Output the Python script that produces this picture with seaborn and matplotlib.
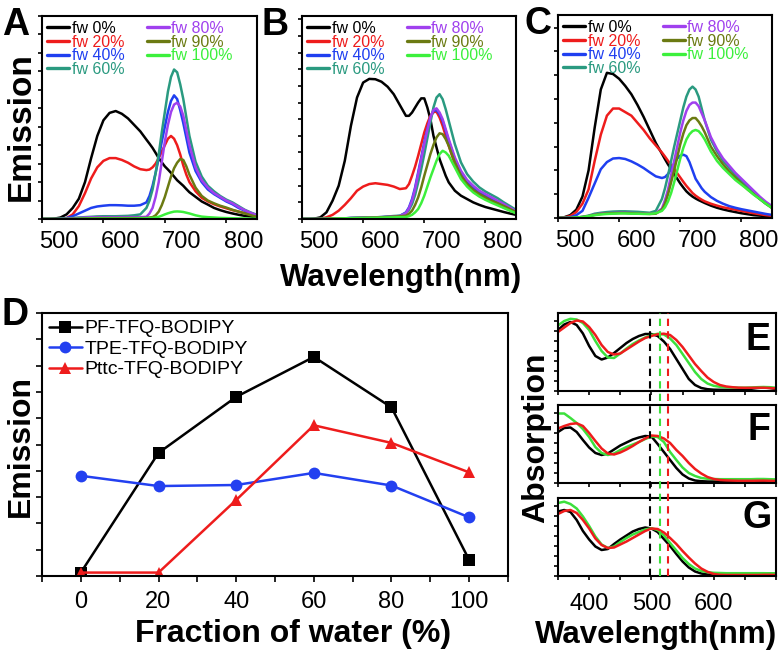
import matplotlib
matplotlib.use("Agg")
import matplotlib.pyplot as plt
from matplotlib.lines import Line2D
from matplotlib.transforms import ScaledTranslation, blended_transform_factory
import pandas as pd
import seaborn as sns

W, H = 783, 653

# emission spectra (A, B, C): wavelength grid in nm, finer around the red peaks
WL_EM = [500, 510, 520, 530, 540, 550, 560, 570, 580, 590,
         600, 610, 620, 630, 640, 650, 660, 670,
         675, 680, 685, 690, 695, 700, 705, 710, 715, 720, 725, 730, 735, 740,
         750, 760, 770, 780, 790, 800, 810, 820, 830, 840, 850]
FW_LABELS = ["fw 0%", "fw 20%", "fw 40%", "fw 60%", "fw 80%", "fw 90%", "fw 100%"]
FW_COLORS = ["#000000", "#ee1c1c", "#1f3ff0", "#2a9a80", "#a040ee", "#6b7a12", "#3cf03c"]

A_0 = [0, 0, 0.02, 0.08, 0.25, 0.6, 1.1, 2.0, 3.3, 4.5, 5.35, 5.75, 5.85, 5.7, 5.45, 5.1, 4.75, 4.3,
       4.08, 3.85, 3.58, 3.3, 3.07, 2.85, 2.68, 2.5, 2.3, 2.1, 1.95, 1.8, 1.62, 1.45,
       1.2, 0.95, 0.78, 0.6, 0.48, 0.38, 0.3, 0.23, 0.17, 0.13, 0.1]
A_20 = [0, 0, 0, 0, 0.05, 0.25, 0.7, 1.4, 2.2, 2.8, 3.15, 3.3, 3.3, 3.2, 3.05, 2.85, 2.7, 2.65,
        2.68, 2.8, 3.0, 3.3, 3.65, 4.0, 4.35, 4.5, 4.35, 4.0, 3.5, 2.9, 2.4, 2.0,
        1.5, 1.15, 0.95, 0.8, 0.68, 0.58, 0.48, 0.4, 0.32, 0.25, 0.18]
A_40 = [0, 0, 0, 0.02, 0.05, 0.15, 0.3, 0.45, 0.6, 0.68, 0.72, 0.75, 0.75, 0.74, 0.72, 0.72, 0.75, 0.9,
        1.25, 1.8, 2.5, 3.3, 4.2, 5.0, 5.8, 6.4, 6.7, 6.5, 5.9, 5.2, 4.4, 3.6,
        2.6, 2.0, 1.6, 1.35, 1.15, 0.95, 0.8, 0.6, 0.45, 0.32, 0.2]
A_60 = [0, 0, 0, 0, 0.02, 0.05, 0.08, 0.1, 0.12, 0.14, 0.15, 0.15, 0.15, 0.16, 0.17, 0.2, 0.25, 0.6,
        1.0, 1.6, 2.5, 3.5, 4.7, 5.8, 6.9, 7.7, 8.1, 7.95, 7.3, 6.5, 5.5, 4.5,
        3.1, 2.3, 1.8, 1.5, 1.25, 1.05, 0.9, 0.7, 0.5, 0.35, 0.22]
A_80 = [0, 0, 0, 0, 0.02, 0.04, 0.06, 0.08, 0.09, 0.1, 0.1, 0.1, 0.1, 0.1, 0.1, 0.1, 0.1, 0.12,
        0.3, 0.6, 1.2, 2.0, 3.1, 4.2, 5.1, 5.8, 6.2, 6.3, 6.1, 5.6, 4.8, 4.0,
        2.8, 2.1, 1.7, 1.4, 1.2, 1.0, 0.85, 0.65, 0.48, 0.33, 0.2]
A_90 = [0, 0, 0, 0, 0, 0.01, 0.02, 0.03, 0.04, 0.05, 0.05, 0.05, 0.05, 0.05, 0.05, 0.05, 0.05, 0.06,
        0.08, 0.1, 0.2, 0.4, 0.75, 1.2, 1.75, 2.3, 2.75, 3.05, 3.25, 3.2, 2.85, 2.4,
        1.7, 1.25, 1.0, 0.85, 0.72, 0.62, 0.5, 0.4, 0.3, 0.2, 0.12]
A_100 = [0, 0, 0, 0, 0, 0, 0.01, 0.01, 0.02, 0.02, 0.02, 0.02, 0.02, 0.02, 0.02, 0.02, 0.03, 0.04,
         0.05, 0.06, 0.08, 0.12, 0.18, 0.25, 0.31, 0.36, 0.4, 0.41, 0.4, 0.38, 0.34, 0.3,
         0.2, 0.13, 0.1, 0.08, 0.06, 0.05, 0.04, 0.03, 0.03, 0.02, 0.02]

B_0 = [0, 0, 0.02, 0.1, 0.4, 1.1, 2.0, 3.5, 5.6, 7.3, 8.2, 8.42, 8.4, 8.25, 7.95, 7.5, 6.85, 6.2,
       6.2, 6.4, 6.7, 7.0, 7.25, 7.25, 6.7, 6.0, 5.0, 4.3, 3.6, 3.1, 2.6, 2.2,
       1.7, 1.4, 1.2, 1.0, 0.85, 0.72, 0.62, 0.52, 0.42, 0.33, 0.25]
B_20 = [0, 0, 0, 0.02, 0.1, 0.25, 0.5, 0.85, 1.25, 1.7, 1.95, 2.1, 2.15, 2.1, 2.05, 1.95, 1.8, 1.85,
        2.1, 2.6, 3.15, 3.8, 4.5, 5.2, 5.75, 6.2, 6.42, 6.45, 6.1, 5.6, 5.0, 4.4,
        3.3, 2.5, 2.0, 1.65, 1.4, 1.2, 1.05, 0.9, 0.7, 0.52, 0.36]
B_40 = [0, 0, 0, 0, 0.01, 0.02, 0.03, 0.04, 0.06, 0.07, 0.08, 0.09, 0.1, 0.11, 0.13, 0.15, 0.18, 0.4,
        0.7, 1.2, 1.9, 2.8, 3.7, 4.6, 5.4, 6.1, 6.5, 6.55, 6.3, 5.9, 5.3, 4.7,
        3.6, 2.8, 2.25, 1.9, 1.6, 1.4, 1.2, 1.0, 0.8, 0.6, 0.42]
B_60 = [0, 0, 0, 0, 0.01, 0.02, 0.03, 0.04, 0.06, 0.07, 0.08, 0.09, 0.1, 0.12, 0.15, 0.18, 0.2, 0.35,
        0.55, 0.9, 1.45, 2.2, 3.0, 3.9, 4.85, 5.8, 6.7, 7.3, 7.5, 7.2, 6.6, 5.9,
        4.5, 3.4, 2.7, 2.25, 1.9, 1.65, 1.45, 1.25, 1.0, 0.78, 0.55]
B_80 = [0, 0, 0, 0, 0.01, 0.02, 0.03, 0.04, 0.06, 0.07, 0.08, 0.09, 0.1, 0.11, 0.13, 0.15, 0.18, 0.35,
        0.65, 1.1, 1.8, 2.7, 3.6, 4.5, 5.35, 6.1, 6.55, 6.65, 6.4, 6.0, 5.4, 4.8,
        3.7, 2.9, 2.35, 2.0, 1.7, 1.5, 1.3, 1.1, 0.9, 0.68, 0.48]
B_90 = [0, 0, 0, 0, 0.01, 0.02, 0.03, 0.04, 0.05, 0.06, 0.07, 0.08, 0.09, 0.1, 0.12, 0.14, 0.16, 0.2,
        0.32, 0.5, 0.85, 1.3, 1.9, 2.6, 3.25, 3.9, 4.45, 4.9, 5.15, 5.1, 4.8, 4.4,
        3.4, 2.6, 2.1, 1.75, 1.5, 1.3, 1.1, 0.95, 0.78, 0.6, 0.42]
B_100 = [0, 0, 0, 0, 0.01, 0.02, 0.03, 0.04, 0.05, 0.06, 0.06, 0.07, 0.07, 0.08, 0.09, 0.1, 0.11, 0.12,
         0.17, 0.25, 0.4, 0.6, 0.95, 1.4, 1.95, 2.5, 3.0, 3.5, 3.9, 4.1, 4.0, 3.8,
         3.1, 2.4, 1.95, 1.6, 1.35, 1.15, 0.98, 0.82, 0.66, 0.5, 0.34]

C_0 = [0, 0.03, 0.12, 0.35, 0.9, 2.0, 3.8, 5.4, 6.1, 6.05, 5.85, 5.55, 5.2, 4.75, 4.25, 3.7, 3.15, 2.7,
       2.47, 2.25, 2.05, 1.85, 1.65, 1.45, 1.28, 1.12, 1.0, 0.9, 0.82, 0.75, 0.69, 0.63,
       0.52, 0.43, 0.36, 0.3, 0.25, 0.2, 0.16, 0.12, 0.1, 0.08, 0.06]
C_20 = [0, 0.02, 0.08, 0.25, 0.6, 1.2, 2.4, 3.5, 4.3, 4.6, 4.6, 4.45, 4.3, 4.0, 3.7, 3.35, 3.05, 2.75,
        2.58, 2.4, 2.22, 2.05, 1.88, 1.7, 1.52, 1.35, 1.2, 1.05, 0.94, 0.85, 0.77, 0.7,
        0.6, 0.52, 0.45, 0.4, 0.35, 0.3, 0.25, 0.2, 0.16, 0.12, 0.09]
C_40 = [0, 0, 0.03, 0.12, 0.3, 0.85, 1.45, 2.05, 2.35, 2.5, 2.52, 2.48, 2.38, 2.25, 2.1, 1.92, 1.75, 1.68,
        1.72, 1.85, 2.05, 2.3, 2.5, 2.62, 2.66, 2.6, 2.35, 2.0, 1.65, 1.45, 1.25, 1.1,
        0.88, 0.72, 0.6, 0.5, 0.43, 0.37, 0.32, 0.27, 0.22, 0.17, 0.13]
C_60 = [0, 0, 0, 0.02, 0.05, 0.1, 0.18, 0.22, 0.25, 0.27, 0.28, 0.28, 0.27, 0.26, 0.24, 0.22, 0.3, 0.8,
        1.25, 1.8, 2.4, 3.0, 3.55, 4.1, 4.65, 5.1, 5.4, 5.52, 5.4, 5.1, 4.6, 4.1,
        3.3, 2.8, 2.4, 2.1, 1.8, 1.55, 1.3, 1.05, 0.8, 0.6, 0.45]
C_80 = [0, 0, 0, 0.02, 0.04, 0.08, 0.14, 0.18, 0.2, 0.21, 0.22, 0.22, 0.21, 0.2, 0.19, 0.18, 0.2, 0.4,
        0.75, 1.2, 1.8, 2.4, 3.0, 3.6, 4.1, 4.5, 4.75, 4.85, 4.85, 4.7, 4.4, 4.1,
        3.4, 2.9, 2.5, 2.2, 1.9, 1.65, 1.4, 1.15, 0.9, 0.68, 0.5]
C_90 = [0, 0, 0, 0.02, 0.04, 0.08, 0.13, 0.17, 0.19, 0.2, 0.21, 0.21, 0.2, 0.19, 0.18, 0.17, 0.18, 0.35,
        0.6, 1.0, 1.5, 2.0, 2.55, 3.1, 3.55, 3.9, 4.1, 4.2, 4.2, 4.05, 3.85, 3.6,
        3.0, 2.6, 2.25, 1.95, 1.7, 1.45, 1.2, 1.0, 0.8, 0.6, 0.42]
C_100 = [0, 0, 0, 0.02, 0.04, 0.08, 0.12, 0.15, 0.17, 0.18, 0.19, 0.19, 0.18, 0.18, 0.17, 0.17, 0.2, 0.3,
         0.45, 0.7, 1.05, 1.5, 2.0, 2.5, 2.95, 3.3, 3.52, 3.65, 3.7, 3.65, 3.5, 3.3,
         2.8, 2.4, 2.1, 1.85, 1.6, 1.4, 1.2, 0.98, 0.8, 0.6, 0.42]

# panel D: emission vs water fraction
WATER = [0, 20, 40, 60, 80, 100]
POLYMERS = ["PF-TFQ-BODIPY", "TPE-TFQ-BODIPY", "Pttc-TFQ-BODIPY"]
POLY_COLORS = ["#000000", "#2340f0", "#ee1c1c"]
POLY_MARKERS = ["s", "o", "^"]
PF_EM = [0.13, 4.68, 6.81, 8.33, 6.41, 0.61]
TPE_EM = [3.81, 3.42, 3.46, 3.92, 3.44, 2.23]
PTTC_EM = [0.13, 0.13, 2.89, 5.73, 5.06, 3.94]

# absorption spectra (E, F, G)
WL_ABS = [350, 360, 370, 380, 390, 400, 410, 420, 430, 440,
          450, 460, 470, 480, 490, 500, 510, 520, 530, 540,
          550, 560, 570, 580, 590, 600, 610, 620, 630, 640,
          650, 660, 670, 680, 690, 700]
ABS_LABELS = ["black", "green", "red"]
ABS_COLORS = ["#000000", "#3ce03c", "#ee1c1c"]
ABS_PEAKS = [497, 513, 527]

E_K = [6.1, 6.65, 6.9, 6.6, 5.75, 4.5, 3.5, 3.15, 3.35, 3.8,
       4.3, 4.8, 5.2, 5.5, 5.7, 5.7, 5.5, 4.95, 4.2, 3.2,
       2.2, 1.2, 0.6, 0.3, 0.18, 0.13, 0.12, 0.12, 0.12, 0.12,
       0.15, 0.22, 0.3, 0.35, 0.3, 0.2]
E_G = [6.55, 7.0, 7.22, 7.15, 6.8, 6.1, 5.0, 4.0, 3.35, 3.3,
       3.75, 4.25, 4.7, 5.05, 5.35, 5.6, 5.72, 5.65, 5.25, 4.6,
       3.7, 2.8, 1.9, 1.2, 0.75, 0.52, 0.42, 0.37, 0.35, 0.33,
       0.33, 0.35, 0.38, 0.4, 0.38, 0.33]
E_R = [5.9, 6.35, 6.8, 7.05, 6.95, 6.4, 5.6, 4.6, 3.9, 3.65,
       3.75, 4.15, 4.55, 4.95, 5.3, 5.5, 5.68, 5.73, 5.6, 5.1,
       4.4, 3.55, 2.7, 2.0, 1.35, 0.9, 0.6, 0.45, 0.38, 0.33,
       0.32, 0.32, 0.33, 0.33, 0.3, 0.25]
F_K = [5.1, 5.5, 5.55, 5.1, 4.3, 3.55, 3.0, 2.8, 2.95, 3.35,
       3.75, 4.05, 4.35, 4.55, 4.7, 4.65, 3.9, 3.1, 2.3, 1.5,
       0.85, 0.45, 0.25, 0.18, 0.15, 0.15, 0.15, 0.15, 0.15, 0.15,
       0.15, 0.17, 0.2, 0.22, 0.2, 0.17]
F_G = [6.95, 6.95, 6.5, 6.0, 5.4, 4.6, 3.6, 3.0, 2.8, 2.95,
       3.3, 3.6, 3.85, 4.1, 4.4, 4.65, 4.6, 4.1, 3.1, 2.3,
       1.55, 1.0, 0.7, 0.5, 0.42, 0.4, 0.38, 0.38, 0.38, 0.38,
       0.38, 0.38, 0.4, 0.4, 0.38, 0.36]
F_R = [5.45, 5.7, 5.9, 5.97, 5.7, 5.0, 4.2, 3.45, 2.95, 2.85,
       3.05, 3.35, 3.7, 4.1, 4.45, 4.75, 4.7, 4.45, 4.0, 3.3,
       2.7, 2.0, 1.4, 0.95, 0.6, 0.4, 0.3, 0.26, 0.24, 0.22,
       0.22, 0.22, 0.23, 0.24, 0.22, 0.2]
G_K = [6.45, 6.6, 6.4, 5.6, 4.5, 3.65, 2.95, 2.6, 2.7, 3.2,
       3.65, 4.05, 4.45, 4.7, 4.85, 4.75, 4.4, 3.7, 3.0, 2.2,
       1.45, 0.85, 0.45, 0.25, 0.15, 0.12, 0.1, 0.1, 0.1, 0.12,
       0.15, 0.2, 0.25, 0.27, 0.25, 0.2]
G_G = [7.3, 7.43, 7.2, 6.75, 5.95, 5.0, 3.95, 3.15, 2.8, 2.95,
       3.4, 3.8, 4.15, 4.4, 4.65, 4.77, 4.6, 4.05, 3.3, 2.55,
       1.8, 1.2, 0.75, 0.5, 0.38, 0.32, 0.3, 0.28, 0.28, 0.28,
       0.28, 0.28, 0.28, 0.28, 0.27, 0.27]
G_R = [6.2, 6.5, 6.6, 6.3, 5.6, 4.75, 3.75, 3.1, 2.8, 2.85,
       3.15, 3.45, 3.8, 4.15, 4.5, 4.75, 4.7, 4.35, 3.8, 3.2,
       2.5, 1.85, 1.25, 0.75, 0.42, 0.2, 0.12, 0.1, 0.1, 0.1,
       0.1, 0.1, 0.1, 0.12, 0.12, 0.1]

sns.set_theme(style="ticks")
plt.rcParams["font.family"] = ["Liberation Sans", "DejaVu Sans"]
plt.rcParams.update({
    "text.color": "black", "axes.labelcolor": "black", "axes.edgecolor": "black",
    "xtick.color": "black", "ytick.color": "black", "axes.linewidth": 1.5,
})


def px_rect(l, t, r, b):
    return [l / W, 1 - b / H, (r - l) / W, (b - t) / H]


def fig_text(fig, x, y, s, **kw):
    fig.text(x / W, 1 - y / H, s, **kw)


def long_table(x, columns, labels, xname):
    parts = []
    for lab, vals in zip(labels, columns):
        parts.append(pd.DataFrame({xname: x, "value": vals, "series": lab}))
    return pd.concat(parts, ignore_index=True)


def draw_emission(fig, ax, columns, ymax):
    df = long_table(WL_EM, columns, FW_LABELS, "nm")
    sns.lineplot(data=df, x="nm", y="value", hue="series", hue_order=FW_LABELS,
                 palette=FW_COLORS, linewidth=1.8, errorbar=None, legend=False, ax=ax)
    ax.set_xlim(500, 850)
    ax.set_ylim(0, ymax)
    ax.set_xticks([500, 600, 700, 800])
    ax.set_yticks(range(0, int(ymax) + 1))
    ax.set_yticklabels([])
    ax.set_xlabel("")
    ax.set_ylabel("")
    ax.tick_params(axis="both", direction="out", length=3, width=1.2)
    ax.tick_params(axis="x", labelsize=17, pad=5.5)
    for sp in ax.spines.values():
        sp.set_linewidth(1.5)
    handles = [Line2D([], [], color=c, lw=2.4) for c in FW_COLORS]
    ax.legend(handles, FW_LABELS, ncol=2, loc="upper left", bbox_to_anchor=(0, 1),
              frameon=False, fontsize=11.5, handlelength=1.4, handletextpad=0.15,
              columnspacing=1.4, labelspacing=-0.08, borderpad=0.1, borderaxespad=0.2,
              labelcolor="linecolor")
    # tick labels sit a little right of their ticks in the original
    shift = ScaledTranslation(17 / 100, 0, fig.dpi_scale_trans)
    for lbl in ax.get_xticklabels():
        lbl.set_transform(lbl.get_transform() + shift)


def draw_absorption(ax, columns, show_x):
    df = long_table(WL_ABS, columns, ABS_LABELS, "nm")
    sns.lineplot(data=df, x="nm", y="value", hue="series", hue_order=ABS_LABELS,
                 palette=ABS_COLORS, linewidth=1.8, errorbar=None, legend=False, ax=ax)
    ax.set_xlim(350, 700)
    ax.set_ylim(0, 7.8)
    ax.set_xticks([400, 500, 600])
    ax.set_xticks([350, 450, 550, 650, 700], minor=True)
    ax.set_yticks(range(0, 8))
    ax.set_yticklabels([])
    ax.set_xlabel("")
    ax.set_ylabel("")
    ax.tick_params(axis="both", which="both", direction="out", length=3, width=1.2)
    ax.tick_params(axis="x", labelsize=17, pad=9)
    if not show_x:
        ax.set_xticklabels([])
    for sp in ax.spines.values():
        sp.set_linewidth(1.5)


fig = plt.figure(figsize=(W / 100, H / 100), dpi=100)

ax_a = fig.add_axes(px_rect(42, 16, 257, 219))
ax_b = fig.add_axes(px_rect(302, 16, 516, 219))
ax_c = fig.add_axes(px_rect(558, 15, 772, 218))
draw_emission(fig, ax_a, [A_0, A_20, A_40, A_60, A_80, A_90, A_100], 11.0)
draw_emission(fig, ax_b, [B_0, B_20, B_40, B_60, B_80, B_90, B_100], 12.2)
draw_emission(fig, ax_c, [C_0, C_20, C_40, C_60, C_80, C_90, C_100], 8.53)

# panel D
ax_d = fig.add_axes(px_rect(42, 313, 508, 576))
df_d = long_table(WATER, [PF_EM, TPE_EM, PTTC_EM], POLYMERS, "water")
sns.lineplot(data=df_d, x="water", y="value", hue="series", style="series",
             hue_order=POLYMERS, style_order=POLYMERS, palette=POLY_COLORS,
             markers=dict(zip(POLYMERS, POLY_MARKERS)), dashes=False,
             markersize=8.5, markeredgewidth=0, linewidth=1.8, errorbar=None,
             legend=False, ax=ax_d)
ax_d.set_xlim(-10, 110)
ax_d.set_ylim(0, 10)
ax_d.set_xticks(WATER)
ax_d.set_xticks([-10, 10, 30, 50, 70, 90, 110], minor=True)
ax_d.set_yticks(range(0, 11))
ax_d.set_yticklabels([])
ax_d.set_xlabel("")
ax_d.set_ylabel("")
ax_d.tick_params(axis="both", which="both", direction="out", length=4, width=1.2)
ax_d.tick_params(axis="x", labelsize=17, pad=7)
for sp in ax_d.spines.values():
    sp.set_linewidth(1.5)
d_handles = [Line2D([], [], color=c, marker=m, markersize=8.5, markeredgewidth=0, lw=1.8)
             for c, m in zip(POLY_COLORS, POLY_MARKERS)]
ax_d.legend(d_handles, POLYMERS, loc="upper left", bbox_to_anchor=(0, 1), frameon=False,
            fontsize=14, handlelength=1.7, handletextpad=0.15, labelspacing=0.15,
            borderpad=0.15, borderaxespad=0.2)

# panels E, F, G
ax_e = fig.add_axes(px_rect(558, 313, 776, 391))
ax_f = fig.add_axes(px_rect(558, 405, 776, 483))
ax_g = fig.add_axes(px_rect(558, 498, 776, 576))
draw_absorption(ax_e, [E_K, E_G, E_R], False)
draw_absorption(ax_f, [F_K, F_G, F_R], False)
draw_absorption(ax_g, [G_K, G_G, G_R], True)

# dashed peak markers running through E, F and G
trans = blended_transform_factory(ax_g.transData, fig.transFigure)
for xv, col in zip(ABS_PEAKS, ABS_COLORS):
    fig.add_artist(Line2D([xv, xv], [1 - 576 / H, 1 - 313 / H], transform=trans,
                          color=col, lw=1.5, linestyle=(0, (3.5, 2.5))))

# panel letters
for x, y, s in [(2, 35, "A"), (262, 35, "B"), (524, 34, "C"), (1, 325, "D")]:
    fig_text(fig, x, y, s, fontsize=27, fontweight="bold", va="baseline", ha="left")
for x, y, s in [(746, 350, "E"), (747, 440, "F"), (743, 528, "G")]:
    fig_text(fig, x, y, s, fontsize=27, fontweight="bold", va="baseline", ha="left")

# axis titles
fig_text(fig, 21, 127, "Emission", rotation=90, ha="center", va="center",
         fontsize=24, fontweight="bold")
fig_text(fig, 21, 446, "Emission", rotation=90, ha="center", va="center",
         fontsize=23, fontweight="bold")
fig_text(fig, 401, 278, "Wavelength(nm)", ha="center", va="center",
         fontsize=22.5, fontweight="bold")
fig_text(fig, 656, 635, "Wavelength(nm)", ha="center", va="center",
         fontsize=22.5, fontweight="bold")
fig_text(fig, 293, 634, "Fraction of water (%)", ha="center", va="center",
         fontsize=23, fontweight="bold")
fig_text(fig, 536, 438, "Absorption", rotation=90, ha="center", va="center",
         fontsize=23, fontweight="bold")

fig.savefig("out.png", dpi=100)
